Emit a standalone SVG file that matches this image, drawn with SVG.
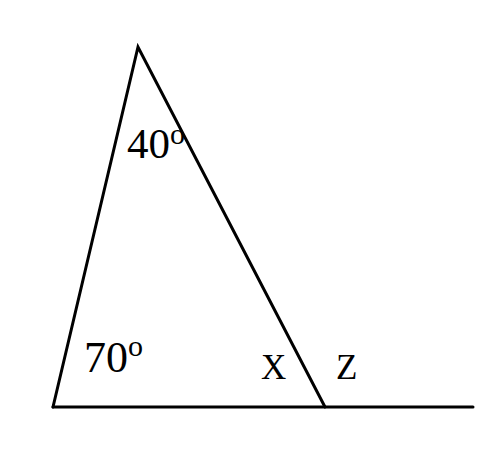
<svg xmlns="http://www.w3.org/2000/svg" width="496" height="464" viewBox="0 0 496 464">
<style>
.ln{stroke:#000;stroke-width:3;fill:none;stroke-linecap:round;stroke-linejoin:miter}
.t{font-family:"Liberation Serif","Times New Roman",serif;fill:#000}
</style>
<rect width="496" height="464" fill="#fff"/>
<g id="connectors">
<polyline class="ln" points="53,407 138,47 325,407"/>
<line class="ln" x1="53" y1="407" x2="473" y2="407"/>
</g>
<g id="angle-top"><text class="t" x="127" y="158" font-size="43">40<tspan font-size="30" dy="-14">o</tspan></text></g>
<g id="angle-left"><text class="t" x="84" y="372" font-size="44">70<tspan font-size="30" dy="-16">o</tspan></text></g>
<g id="angle-x"><text class="t" x="261" y="379" font-size="35">X</text></g>
<g id="angle-z"><text class="t" x="336" y="379" font-size="35">Z</text></g>
</svg>
